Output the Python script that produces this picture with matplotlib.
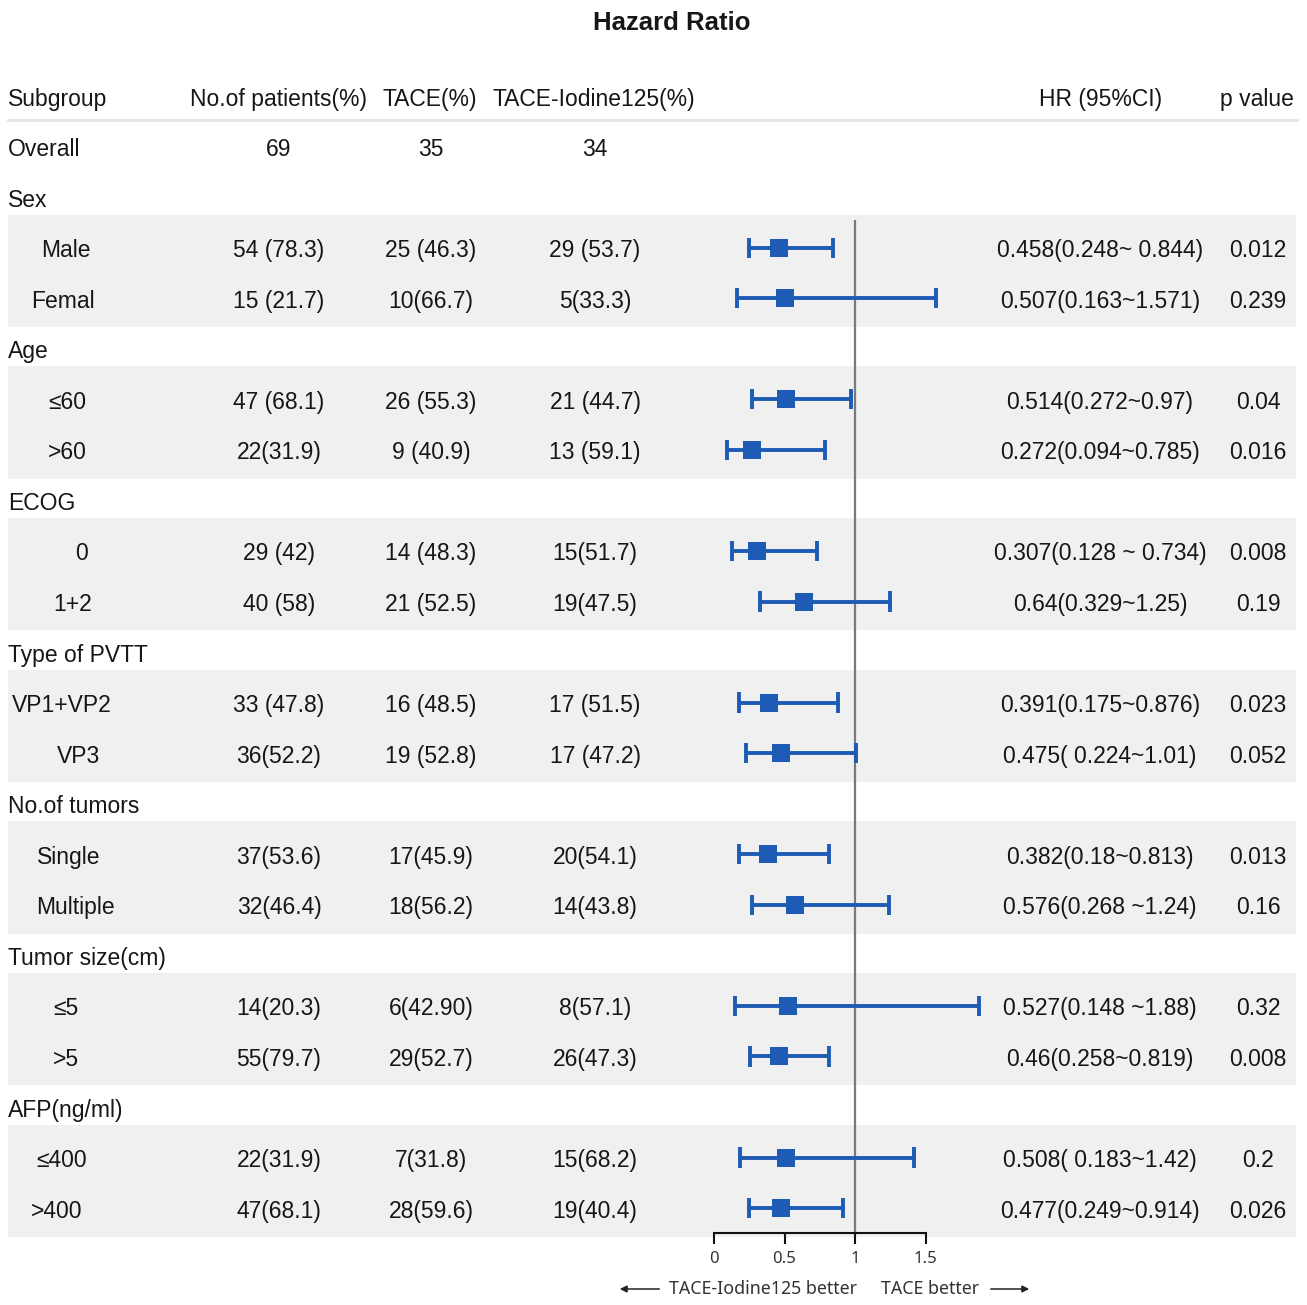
import numpy as np
import matplotlib
matplotlib.use("Agg")
import matplotlib.pyplot as plt
import matplotlib.transforms as mtransforms
from matplotlib.patches import Rectangle

# ---------------- data ----------------
headers = ["Subgroup", "No.of patients(%)", "TACE(%)", "TACE-Iodine125(%)", "HR (95%CI)", "p value"]
labels = ["Overall", "Sex", "Male", "Femal", "Age", "≤60", ">60", "ECOG", "0", "1+2",
          "Type of PVTT", "VP1+VP2", "VP3", "No.of tumors", "Single", "Multiple",
          "Tumor size(cm)", "≤5", ">5", "AFP(ng/ml)", "≤400", ">400"]
is_sub = [False, False, True, True, False, True, True, False, True, True,
          False, True, True, False, True, True, False, True, True, False, True, True]
n_patients = ["69", "", "54 (78.3)", "15 (21.7)", "", "47 (68.1)", "22(31.9)", "", "29 (42)", "40 (58)",
              "", "33 (47.8)", "36(52.2)", "", "37(53.6)", "32(46.4)", "", "14(20.3)", "55(79.7)",
              "", "22(31.9)", "47(68.1)"]
tace = ["35", "", "25 (46.3)", "10(66.7)", "", "26 (55.3)", "9 (40.9)", "", "14 (48.3)", "21 (52.5)",
        "", "16 (48.5)", "19 (52.8)", "", "17(45.9)", "18(56.2)", "", "6(42.90)", "29(52.7)",
        "", "7(31.8)", "28(59.6)"]
iodine = ["34", "", "29 (53.7)", "5(33.3)", "", "21 (44.7)", "13 (59.1)", "", "15(51.7)", "19(47.5)",
          "", "17 (51.5)", "17 (47.2)", "", "20(54.1)", "14(43.8)", "", "8(57.1)", "26(47.3)",
          "", "15(68.2)", "19(40.4)"]
nan = np.nan
hr = [nan, nan, 0.458, 0.507, nan, 0.514, 0.272, nan, 0.307, 0.64, nan, 0.391, 0.475, nan,
      0.382, 0.576, nan, 0.527, 0.46, nan, 0.508, 0.477]
ci_low = [nan, nan, 0.248, 0.163, nan, 0.272, 0.094, nan, 0.128, 0.329, nan, 0.175, 0.224, nan,
          0.18, 0.268, nan, 0.148, 0.258, nan, 0.183, 0.249]
ci_high = [nan, nan, 0.844, 1.571, nan, 0.97, 0.785, nan, 0.734, 1.25, nan, 0.876, 1.01, nan,
           0.813, 1.24, nan, 1.88, 0.819, nan, 1.42, 0.914]
hr_text = ["", "", "0.458(0.248~ 0.844)", "0.507(0.163~1.571)", "", "0.514(0.272~0.97)",
           "0.272(0.094~0.785)", "", "0.307(0.128 ~ 0.734)", "0.64(0.329~1.25)", "",
           "0.391(0.175~0.876)", "0.475( 0.224~1.01)", "", "0.382(0.18~0.813)",
           "0.576(0.268 ~1.24)", "", "0.527(0.148 ~1.88)", "0.46(0.258~0.819)", "",
           "0.508( 0.183~1.42)", "0.477(0.249~0.914)"]
p_values = ["", "", "0.012", "0.239", "", "0.04", "0.016", "", "0.008", "0.19", "",
            "0.023", "0.052", "", "0.013", "0.16", "", "0.32", "0.008", "", "0.2", "0.026"]
ticks = [0, 0.5, 1, 1.5]

# ---------------- layout (style) ----------------
W, H = 1307, 1305
ROW0, ROWH = 96.0, 50.55   # pixel y of header row, row height
X0, XS = 714.0, 141.0      # pixel x of HR=0, pixels per HR unit
BLUE = "#1e5bb4"
TXT = "#161616"
FONT = "Liberation Sans"
FS = 16.5
TOFF = 3.0 / ROWH          # text slightly below the mark centre

fig = plt.figure(figsize=(W / 100, H / 100), dpi=100)
ax = fig.add_axes([0, 0, 1, 1])
ax.set_xlim(-X0 / XS, (W - X0) / XS)
ax.set_ylim((H - ROW0) / ROWH, -ROW0 / ROWH)
for s in ["top", "left", "right"]:
    ax.spines[s].set_visible(False)
ax.patch.set_alpha(0)

# transforms: x in figure pixels, y in rows
tr = mtransforms.blended_transform_factory(
    mtransforms.Affine2D().scale(1 / W, 1) + fig.transFigure, ax.transData)

nrows = len(labels)
rows = np.arange(1, nrows + 1)

# shaded bands for subgroup pairs
i = 0
while i < nrows:
    if is_sub[i]:
        j = i
        while j + 1 < nrows and is_sub[j + 1]:
            j += 1
        top = rows[i] - 0.65
        bot = rows[j] + 0.57
        ax.add_patch(Rectangle((8, top), 1296 - 8, bot - top, transform=tr,
                               facecolor="#f0f0f0", edgecolor="none", zorder=0))
        i = j + 1
    else:
        i += 1

# header separator
ax.plot([8, 1297], [0.475, 0.475], transform=tr, color="#e4e4e4", lw=2, zorder=1)

# title
fig.text(672 / W, 1 - 23 / H, "Hazard Ratio", ha="center", va="center",
         fontsize=18.5, fontweight="bold", family=FONT, color=TXT)

def put(x, y, s, ha="center"):
    ax.text(x, y + TOFF, s, transform=tr, ha=ha, va="center", fontsize=FS,
            family=FONT, color=TXT)

# headers
hx = [(8, "left"), (278, "center"), (430, "center"), (594, "center"), (1101, "center"), (1257, "center")]
for (x, ha), h in zip(hx, headers):
    put(x, 0, h, ha)

sub_centers = {"Male": 66, "Femal": 63, "≤60": 67, ">60": 67, "0": 82, "1+2": 73,
               "VP1+VP2": 62, "VP3": 79, "Single": 69, "Multiple": 75, "≤5": 66, ">5": 66,
               "≤400": 62, ">400": 57}

for k in range(nrows):
    y = rows[k]
    if is_sub[k]:
        put(sub_centers.get(labels[k], 68), y, labels[k])
    else:
        put(8, y, labels[k], "left")
    put(279, y, n_patients[k])
    put(431, y, tace[k])
    put(595, y, iodine[k])
    put(1100, y, hr_text[k])
    put(1258, y, p_values[k])

# reference line at HR = 1
axis_row = (1233 - ROW0) / ROWH
ax.vlines(1, (220 - ROW0) / ROWH, axis_row, color="#7a7a7a", lw=1.6, zorder=2)

# CIs and points
hr_a = np.array(hr)
lo_a = np.array(ci_low)
hi_a = np.array(ci_high)
m = ~np.isnan(hr_a)
ax.hlines(rows[m], lo_a[m], hi_a[m], color=BLUE, lw=2.8, zorder=3)
cap = 0.2
ax.vlines(lo_a[m], rows[m] - cap, rows[m] + cap, color=BLUE, lw=2.8, zorder=3)
ax.vlines(hi_a[m], rows[m] - cap, rows[m] + cap, color=BLUE, lw=2.8, zorder=3)
ax.scatter(hr_a[m], rows[m], marker="s", s=150, color=BLUE, zorder=4, linewidths=0)

# bottom axis
ax.spines["bottom"].set_position(("data", axis_row))
ax.spines["bottom"].set_bounds(0, 1.5)
ax.spines["bottom"].set_linewidth(1.5)
ax.spines["bottom"].set_color("#111111")
ax.set_xticks(ticks)
ax.set_xticklabels([f"{t:g}" for t in ticks])
ax.tick_params(axis="x", direction="out", length=8, width=1.5, pad=5, labelsize=12,
               colors="#111111", labelcolor="#333333")
for lab in ax.get_xticklabels():
    lab.set_family("Noto Sans")
ax.set_yticks([])

# direction labels with arrows
yl = (1289 - ROW0) / ROWH
ax.text(669, yl, "TACE-Iodine125 better", transform=tr, ha="left", va="center",
        fontsize=12.8, family="Noto Sans", color="#333333")
ax.text(881, yl, "TACE better", transform=tr, ha="left", va="center",
        fontsize=12.8, family="Noto Sans", color="#333333")
ax.annotate("", xy=(617, yl), xytext=(662, yl), xycoords=tr, textcoords=tr,
            arrowprops=dict(arrowstyle="-|>", color="#222222", lw=1.1, mutation_scale=10))
ax.annotate("", xy=(1032, yl), xytext=(988, yl), xycoords=tr, textcoords=tr,
            arrowprops=dict(arrowstyle="-|>", color="#222222", lw=1.1, mutation_scale=10))

fig.savefig("out.png", dpi=100, facecolor="white")
